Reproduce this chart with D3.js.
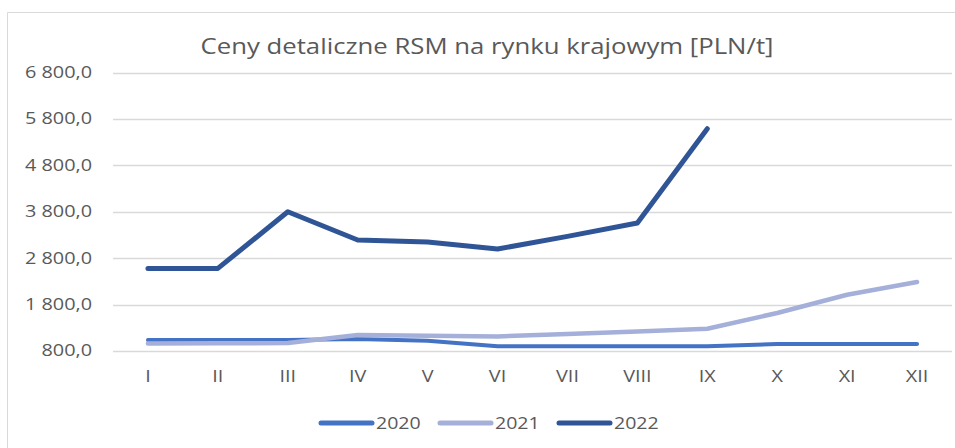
<!DOCTYPE html>
<html><head><meta charset="utf-8">
<title>Ceny detaliczne RSM</title>
<script src="https://cdn.jsdelivr.net/npm/d3@7"></script>
<style>
body { margin:0; background:#fff; }
text { font-family: "Open Sans", "DejaVu Sans", sans-serif; fill:#595959; }
</style>
</head>
<body>
<script>
// data
var months = ["I","II","III","IV","V","VI","VII","VIII","IX","X","XI","XII"];
var years = ["2020","2021","2022"];
var v2020 = [1037,1037,1037,1058,1022,900,900,900,900,950,950,950];
var v2021 = [964,965,972,1145,1130,1115,1166,1222,1280,1619,2013,2287];
var v2022 = [2580,2580,3800,3192,3150,2998,3270,3559,5590,null,null,null];
var yTicks = [800,1800,2800,3800,4800,5800,6800];
var colors = ["#4472c4","#a5b0da","#2f5597"];
var widths = [4,4.5,5];

var width = 955, height = 448;
var svg = d3.select("body").append("svg").attr("width",width).attr("height",height);

// the original text looks stretched sideways, so widen every label a bit
var stretch = function(sel, k) {
	sel.each(function() {
		var w = this.getComputedTextLength();
		d3.select(this).attr("textLength", w * k).attr("lengthAdjust","spacingAndGlyphs");
	});
};

// chart frame (cut off at right and bottom in the original)
svg.append("path").attr("d","M7.5,448V12.5H955")
	.attr("fill","none").attr("stroke","#d9d9d9").attr("stroke-width",1);

var x = d3.scaleBand().domain(months).range([113,952]);
var y = d3.scaleLinear().domain([800,6800]).range([351,72.6]);

var title = svg.append("text").attr("x",487).attr("y",54).attr("text-anchor","middle")
	.style("font-size","21px").text("Ceny detaliczne RSM na rynku krajowym [PLN/t]");
title.attr("textLength",573).attr("lengthAdjust","spacingAndGlyphs");

// grid
svg.append("g").selectAll("line").data(yTicks).enter().append("line")
	.attr("x1",113).attr("x2",952)
	.attr("y1",function(d){return Math.round(y(d))+0.5;})
	.attr("y2",function(d){return Math.round(y(d))+0.5;})
	.attr("stroke","#d9d9d9").attr("stroke-width",1.5);

var fmt = function(d) {
	var s = d3.format(",.1f")(d);
	return s.replace(/,/g," ").replace(/\.(\d)$/, ",$1");
};

var yAxis = svg.append("g").attr("transform","translate(92,0)")
	.call(d3.axisLeft(y).tickValues(yTicks).tickSize(0).tickPadding(0).tickFormat(fmt));
yAxis.select(".domain").remove();
yAxis.selectAll("text").style("font-size","15.5px").style("font-family","\"Open Sans\", sans-serif").attr("fill","#595959");
stretch(yAxis.selectAll("text"), 1.28);

var xAxis = svg.append("g").attr("transform","translate(0,371)")
	.call(d3.axisBottom(x).tickSize(0).tickPadding(0));
xAxis.select(".domain").remove();
xAxis.selectAll("text").style("font-size","15.5px").style("font-family","\"Open Sans\", sans-serif").attr("fill","#595959").attr("dy","0.71em");
stretch(xAxis.selectAll("text"), 1.28);

var series = [v2020, v2021, v2022];
var line = d3.line()
	.defined(function(d){return d != null;})
	.x(function(d,i){return x(months[i]) + x.bandwidth()/2;})
	.y(function(d){return y(d);});

svg.append("g").selectAll("path").data(series).enter().append("path")
	.attr("d", line)
	.attr("fill","none")
	.attr("stroke", function(d,i){return colors[i];})
	.attr("stroke-width", function(d,i){return widths[i];})
	.attr("stroke-linejoin","round")
	.attr("stroke-linecap","round");

// legend
var legendX = [321, 440, 559];
var lg = svg.append("g").selectAll("g").data(years).enter().append("g")
	.attr("transform", function(d,i){return "translate(" + legendX[i] + ",423)";});
lg.append("line").attr("x1",0).attr("x2",51).attr("y1",0).attr("y2",0)
	.attr("stroke", function(d,i){return colors[i];})
	.attr("stroke-width",5).attr("stroke-linecap","round");
lg.append("text").attr("x",55).attr("y",0).attr("dy","0.36em")
	.style("font-size","16px").text(function(d){return d;});
stretch(lg.selectAll("text"), 1.22);
</script>
</body></html>
